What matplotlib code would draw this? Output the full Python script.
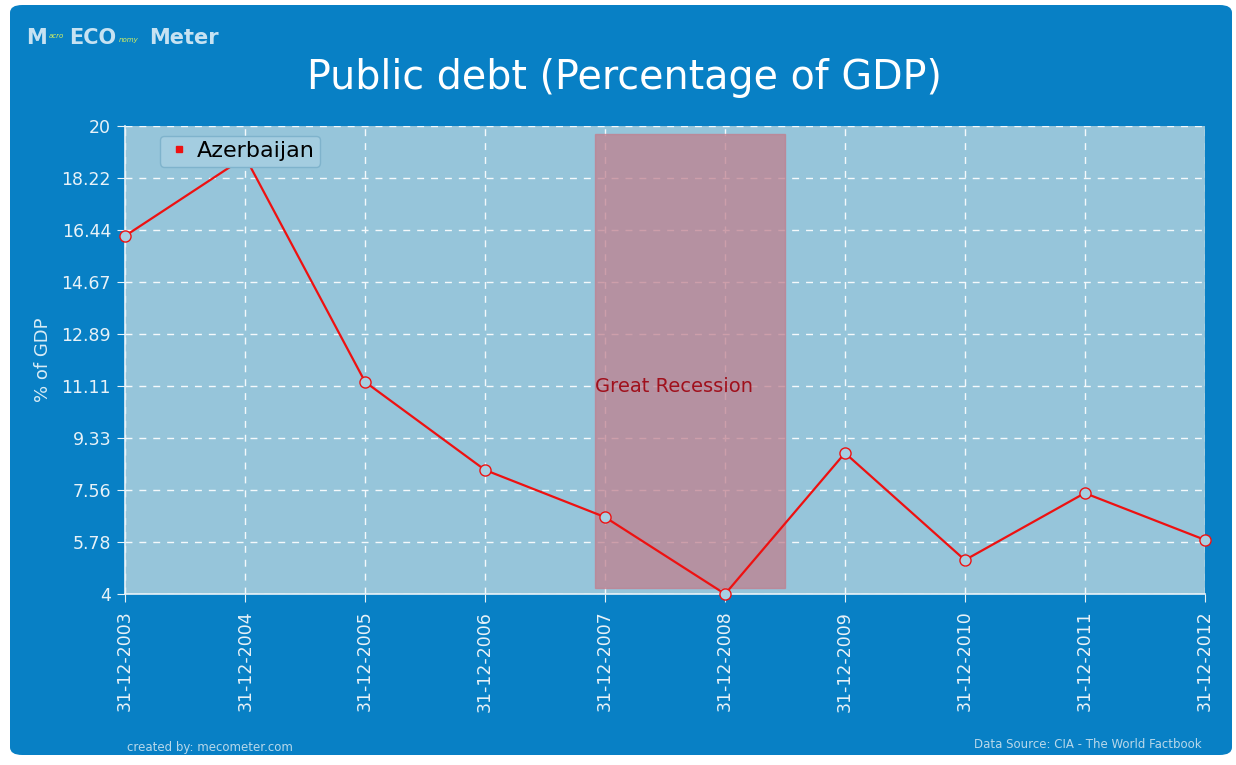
import pandas as pd
import matplotlib.pyplot as plt
from matplotlib.patches import FancyBboxPatch

dates = pd.to_datetime(["2003-12-31", "2004-12-31", "2005-12-31", "2006-12-31", "2007-12-31",
                        "2008-12-31", "2009-12-31", "2010-12-31", "2011-12-31", "2012-12-31"])
debt = [16.24, 18.94, 11.25, 8.24, 6.63, 4.0, 8.82, 5.16, 7.45, 5.85]
yticks = [4, 5.78, 7.56, 9.33, 11.11, 12.89, 14.67, 16.44, 18.22, 20]
recession = pd.to_datetime(["2007-12-01", "2009-06-30"])

blue = '#0880c5'
plot_bg = '#96c5da'

fig = plt.figure(figsize=(12.36, 7.65), dpi=100)
fig.patch.set_facecolor('white')
bg = FancyBboxPatch((10 / 1236, 10 / 765), 1222 / 1236, 750 / 765,
                    boxstyle="round,pad=0,rounding_size=0.01", transform=fig.transFigure,
                    facecolor=blue, edgecolor='none', zorder=-10)
fig.patches.append(bg)

ax = fig.add_axes([125 / 1236, 1 - 594 / 765, 1080 / 1236, 468 / 765])
ax.set_facecolor(plot_bg)

ax.axvspan(recession[0], recession[1], ymin=0.013, ymax=0.983, color='#c0808f', alpha=0.75, zorder=1)
ax.text(recession[0], 11.11, 'Great Recession', color='#a0101c', fontsize=14, va='center', ha='left', zorder=2)

ax.plot(dates, debt, '-', color='#ee1111', lw=1.6, zorder=3)
ax.plot(dates, debt, 'o', ms=8, mfc='#a8d0e2', mec='#ee1111', mew=1.0, zorder=4, clip_on=False)

ax.set_xlim(dates[0], dates[-1])
ax.set_ylim(4, 20)
ax.set_yticks(yticks)
ax.set_yticklabels([f'{t:g}' for t in yticks])
ax.set_xticks(dates)
ax.set_xticklabels([d.strftime('%d-%m-%Y') for d in dates], rotation=90)
ax.grid(True, color='#f4f9fc', linestyle=(0, (5, 5)), lw=1)
ax.set_axisbelow(True)

for s in ['top', 'right']:
    ax.spines[s].set_visible(False)
for s in ['left', 'bottom']:
    ax.spines[s].set_color('#e8f2f8')
    ax.spines[s].set_linewidth(1.2)
ax.tick_params(colors='#e8f2f8', length=6, pad=4)
ax.tick_params(axis='y', labelsize=12.5)
ax.tick_params(axis='x', labelsize=12.5, pad=6)
ax.set_ylabel('% of GDP', color='#d8ecf6', fontsize=13, labelpad=7)

leg = ax.legend([plt.Line2D([], [], marker='s', ms=5, color='#ee1111', ls='none')], ['Azerbaijan'],
                loc='upper left', bbox_to_anchor=(0.022, 1.003), fontsize=16, frameon=True,
                fancybox=True, handletextpad=0.2, borderpad=0.25, handlelength=1.2)
leg.get_frame().set_facecolor('#a4cde0')
leg.get_frame().set_edgecolor('#7fb3cc')
leg.get_frame().set_alpha(1)

fig.text(0.505, 1 - 78 / 765, 'Public debt (Percentage of GDP)', color='white', fontsize=28.5,
         ha='center', va='center', family='DejaVu Sans')

# logo
fig.text(26 / 1236, 1 - 38 / 765, 'M', color='#c6e2f2', fontsize=15, fontweight='bold', va='center')
fig.text(49 / 1236, 1 - 36 / 765, 'acro', color='#d6f060', fontsize=5, va='center', style='italic')
fig.text(69 / 1236, 1 - 38 / 765, 'ECO', color='#c6e2f2', fontsize=15, fontweight='bold', va='center')
fig.text(119 / 1236, 1 - 40 / 765, 'nomy', color='#d6f060', fontsize=5, va='center', style='italic')
fig.text(149 / 1236, 1 - 38 / 765, 'Meter', color='#c6e2f2', fontsize=15, fontweight='bold', va='center')

fig.text(127 / 1236, 1 - 747 / 765, 'created by: mecometer.com', color='#b8d8ea', fontsize=8.5, va='center')
fig.text(1202 / 1236, 1 - 744 / 765, 'Data Source: CIA - The World Factbook', color='#b8d8ea',
         fontsize=8.5, va='center', ha='right')

fig.savefig('out.png', dpi=100, facecolor=fig.get_facecolor())
